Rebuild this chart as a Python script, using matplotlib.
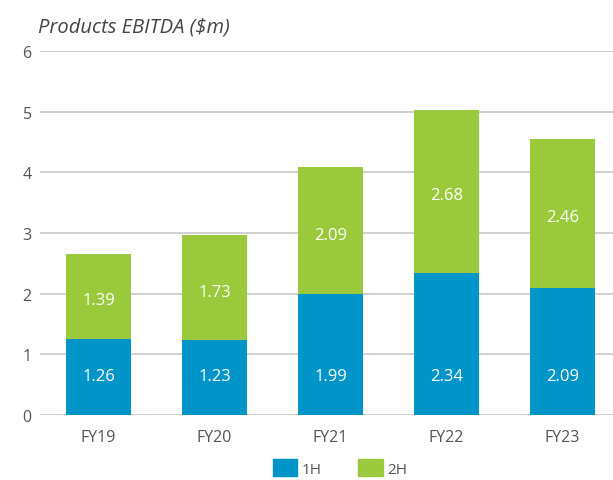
import matplotlib.pyplot as plt
from matplotlib.patches import Patch

plt.rcParams['font.family'] = ['Open Sans', 'DejaVu Sans']

years = ['FY19', 'FY20', 'FY21', 'FY22', 'FY23']
first_half = [1.26, 1.23, 1.99, 2.34, 2.09]
second_half = [1.39, 1.73, 2.09, 2.68, 2.46]

blue = '#0095c9'
green = '#9aca3c'
grey = '#555555'

fig = plt.figure(figsize=(6.13, 4.81), dpi=100)
ax = fig.add_axes([40 / 613, 1 - 416 / 481, 573 / 613, 364 / 481])

x = range(len(years))
w = 0.56
ax.bar(x, first_half, width=w, color=blue, zorder=3)
ax.bar(x, second_half, width=w, bottom=first_half, color=green, zorder=3)

# 1H labels sit at the same height in every bar, 2H labels near the middle
for i in x:
  ax.text(i, 0.64, '%.2f' % first_half[i], ha='center', va='center',
          color='white', fontsize=12, zorder=4)
  ax.text(i, first_half[i] + second_half[i] / 2 - 0.06, '%.2f' % second_half[i], ha='center',
          va='center', color='white', fontsize=12, zorder=4)

ax.set_xlim(-0.504, 4.435)
ax.set_ylim(0, 6)
ax.set_yticks(range(0, 7))
ax.yaxis.grid(True, color='#c8c8c8', linewidth=1.2, zorder=0)
ax.set_xticks(list(x))
ax.set_xticklabels(years)
ax.tick_params(axis='both', length=0, labelsize=11.5, labelcolor=grey)
ax.tick_params(axis='x', pad=10)
ax.tick_params(axis='y', pad=6)
for s in ax.spines.values():
  s.set_visible(False)

fig.text(38 / 613, 1 - 27 / 481, 'Products EBITDA ($m)', style='italic', fontsize=14.5,
         color='#444444', va='center', ha='left')

handles = [Patch(color=blue, label='1H'), Patch(color=green, label='2H')]
fig.legend(handles=handles, loc='center', bbox_to_anchor=(340 / 613, 1 - 469 / 481), ncol=2,
           frameon=False, fontsize=11, labelcolor=grey, handlelength=1.6, handleheight=1.3,
           handletextpad=0.3, columnspacing=2.4)

fig.savefig('out.png', dpi=100)
